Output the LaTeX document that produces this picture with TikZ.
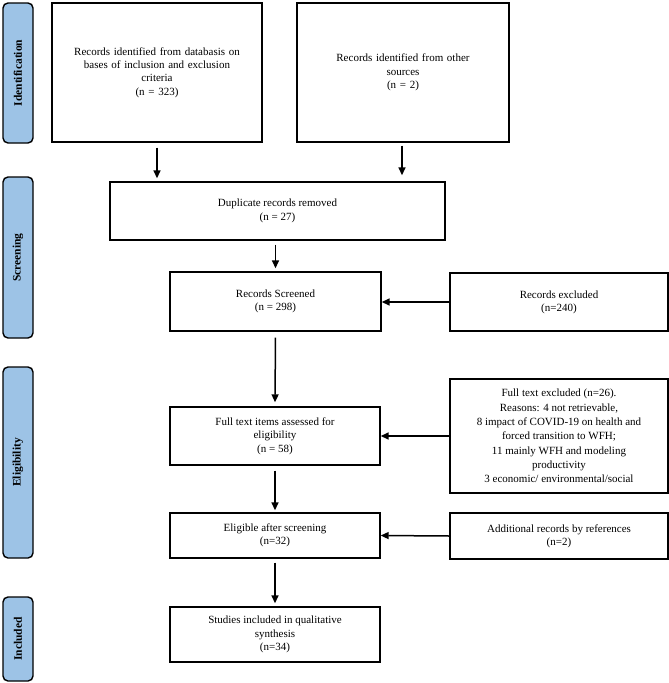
\documentclass[tikz,border=0pt]{standalone}
\usepackage{fontspec}
\setmainfont{Liberation Serif}
\usetikzlibrary{arrows.meta}
\definecolor{barblue}{RGB}{157,195,230}
\begin{document}
\begin{tikzpicture}[x=1pt,y=-1pt,
  box/.style={draw=black,line width=1.4pt,fill=white,align=center,inner sep=2pt,
    font=\fontsize{11}{13.3}\selectfont},
  bar/.style={draw=black,line width=1.4pt,fill=barblue,rounded corners=5pt,
    minimum width=30pt,inner sep=0pt,font=\bfseries\fontsize{11.5}{13}\selectfont},
  arr/.style={line width=1.5pt,-{Triangle[length=8pt,width=7pt]}}]
\useasboundingbox (0,0) rectangle (669,683);
% side bars
\node[bar,minimum height=140pt] (sid) at (18,73) {\rotatebox{90}{Identification}};
\node[bar,minimum height=161pt] (ssc) at (18,257.5) {\rotatebox{90}{Screening}};
\node[bar,minimum height=191pt] (sel) at (18,462.5) {\rotatebox{90}{Eligibility}};
\node[bar,minimum height=84pt] (sin) at (18,639) {\rotatebox{90}{Included}};
% boxes
\node[box,minimum width=210pt,minimum height=139pt,text width=200pt] (b1) at (157,72.5)
  {Records identified from databasis on\\ bases of inclusion and exclusion\\ criteria\\ (n = 323)};
\node[box,minimum width=212pt,minimum height=139pt,text width=200pt] (b2) at (403,72.5)
  {Records identified from other\\ sources\\ (n = 2)};
\node[box,minimum width=335pt,minimum height=58pt] (dup) at (277.5,211)
  {Duplicate records removed\\ (n = 27)};
\node[box,minimum width=211pt,minimum height=59pt] (scr) at (275.5,301.5)
  {Records Screened\\ (n = 298)};
\node[box,minimum width=218pt,minimum height=58pt] (exc) at (559,302)
  {Records excluded\\ (n=240)};
\node[box,minimum width=210pt,minimum height=58pt] (full) at (275,436)
  {Full text items assessed for\\ eligibility\\ (n = 58)};
\node[box,minimum width=218pt,minimum height=114pt,font=\fontsize{11}{14.3}\selectfont] (ftx) at (559,436)
  {Full text excluded (n=26).\\ Reasons: 4 not retrievable,\\ 8 impact of COVID-19 on health and\\ forced transition to WFH;\\ 11 mainly WFH and modeling\\ productivity\\ 3 economic/ environmental/social};
\node[box,minimum width=210pt,minimum height=45pt] (elig) at (275,535.5)
  {Eligible after screening\\ (n=32)};
\node[box,minimum width=218pt,minimum height=46pt] (add) at (559,536)
  {Additional records by references\\ (n=2)};
\node[box,minimum width=210pt,minimum height=55pt] (stud) at (275,634.5)
  {Studies included in qualitative\\ synthesis\\ (n=34)};
% connectors
\draw[arr,shorten <=5pt,shorten >=3pt] (b1.south) -- (b1.south |- dup.north);
\draw[arr,shorten <=3pt,shorten >=6pt] ([xshift=-1pt]b2.south) -- ([xshift=-1pt]b2.south |- dup.north);
\draw[arr,shorten <=4pt,shorten >=3pt] (dup.south -| scr.north) -- (scr.north);
\draw[arr,shorten <=6pt,shorten >=4pt] (scr.south) -- (full.north);
\draw[arr,shorten <=5pt,shorten >=2pt] (full.south) -- (elig.north);
\draw[arr,shorten <=4pt,shorten >=3pt] (elig.south) -- (stud.north);
\draw[arr] (exc.west) -- (exc.west -| scr.east);
\draw[arr] (ftx.west) -- (full.east);
\draw[arr] (add.west) -- (elig.east);
\end{tikzpicture}
\end{document}
